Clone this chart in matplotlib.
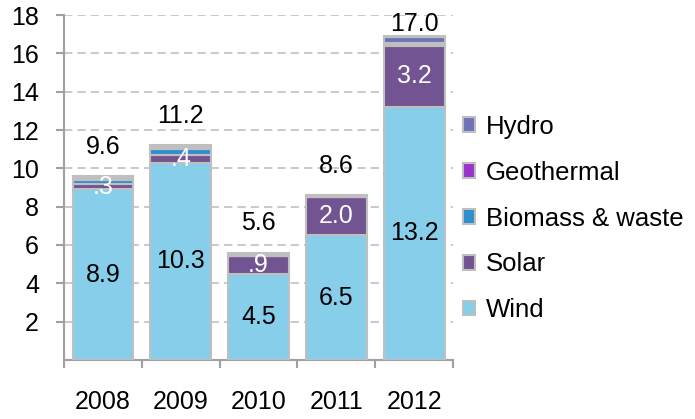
import matplotlib.pyplot as plt
import numpy as np

plt.rcParams['font.family'] = ['Liberation Sans', 'DejaVu Sans']

years = ["2008", "2009", "2010", "2011", "2012"]
wind = [8.9, 10.3, 4.5, 6.5, 13.2]
solar = [0.3, 0.4, 0.9, 2.0, 3.2]
biomass = [0.2, 0.3, 0.0, 0.0, 0.1]
geothermal = [0.0, 0.0, 0.0, 0.0, 0.05]
hydro = [0.0, 0.0, 0.0, 0.0, 0.3]
other = [0.2, 0.2, 0.2, 0.1, 0.05]
totals = [9.6, 11.2, 5.6, 8.6, 17.0]
wind_labels = ["8.9", "10.3", "4.5", "6.5", "13.2"]
solar_labels = [".3", ".4", ".9", "2.0", "3.2"]

edge = "#bfbfbf"
series = [
    ("Wind", wind, "#87ceeb"),
    ("Solar", solar, "#735492"),
    ("Biomass & waste", biomass, "#2f8fcf"),
    ("Geothermal", geothermal, "#9933cc"),
    ("Hydro", hydro, "#6f74b8"),
    (None, other, "#c0c0c0"),
]

fig = plt.figure(figsize=(6.95, 4.19), dpi=100)
ax = fig.add_axes([0.092, 0.141, 0.56, 0.823])

x = np.arange(len(years))
bottom = np.zeros(len(years))
handles = []
for name, vals, col in series:
    b = ax.bar(x, vals, 0.78, bottom=bottom, color=col, edgecolor=edge,
               linewidth=1.5, zorder=3)
    if name:
        handles.append((b, name))
    bottom = bottom + np.array(vals)

# total labels sit above the bars; the tallest one is pushed down to fit
offsets = [21, 21, 21, 21, 9]
for i in range(len(years)):
    ax.text(x[i], wind[i] / 2, wind_labels[i], ha='center', va='center',
            fontsize=18, color='black', zorder=5)
    ax.text(x[i], wind[i] + solar[i] / 2, solar_labels[i], ha='center',
            va='center', fontsize=18, color='white', zorder=5)
    ax.annotate("%.1f" % totals[i], (x[i], bottom[i]), xytext=(0, offsets[i]),
                textcoords='offset points', ha='center', va='center',
                fontsize=18, color='black', zorder=5)

ax.set_xlim(-0.5, 4.5)
ax.set_ylim(0, 18)
ax.set_yticks(range(2, 19, 2))
ax.set_yticklabels([str(v) for v in range(2, 19, 2)])
ax.yaxis.grid(True, color='#c0c0c0', linestyle=(0, (5, 3)), linewidth=1.2, zorder=0)
ax.set_xticks(np.arange(-0.5, 5, 1))
ax.set_xticklabels([])
for i, y in enumerate(years):
    ax.text(x[i], -2.2, y, ha='center', va='center', fontsize=18)

for s in ['top', 'right']:
    ax.spines[s].set_visible(False)
for s in ['left', 'bottom']:
    ax.spines[s].set_color('#a0a0a0')
    ax.spines[s].set_linewidth(1.5)
ax.tick_params(axis='y', length=6, width=1.5, color='#a0a0a0', labelsize=18, pad=12)
ax.tick_params(axis='x', length=6, width=1.5, color='#a0a0a0')

handles = handles[::-1]
leg = ax.legend([h[0] for h in handles], [h[1] for h in handles],
                loc='center left', bbox_to_anchor=(0.965, 0.41), frameon=False,
                fontsize=18.5, handlelength=0.5, handleheight=0.5,
                handletextpad=0.4, labelspacing=0.85)

fig.savefig("out.png", dpi=100)
